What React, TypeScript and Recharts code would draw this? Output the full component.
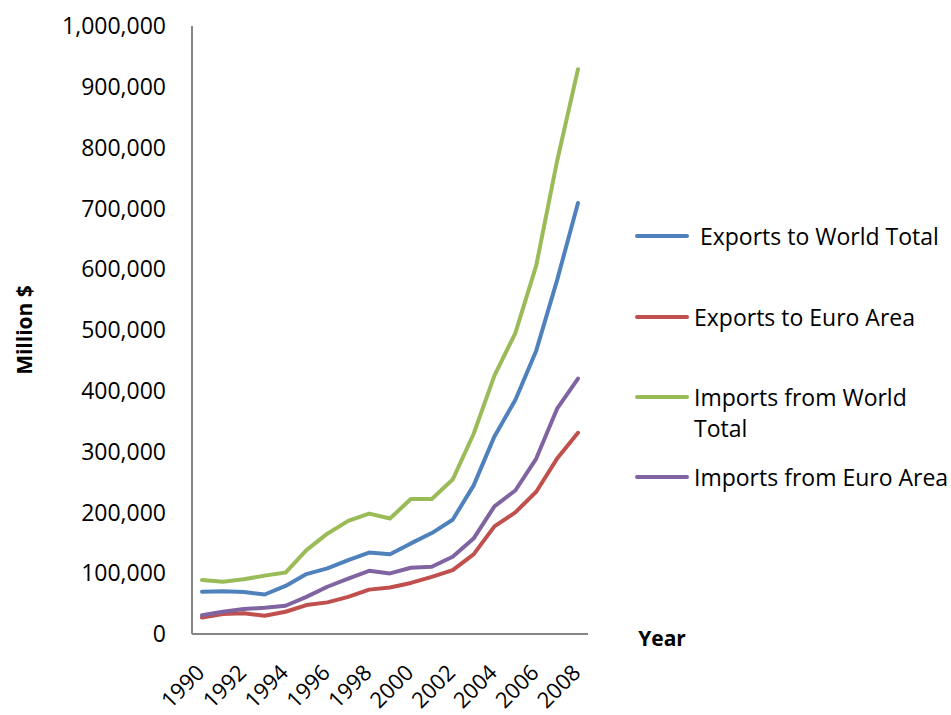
import React from 'react';
import { LineChart, Line, XAxis, YAxis } from 'recharts';

const years = ['1990','1991','1992','1993','1994','1995','1996','1997','1998','1999','2000','2001','2002','2003','2004','2005','2006','2007','2008'];
const exportsWorld = [69500, 70500, 69000, 65000, 79000, 98500, 108000, 121500, 134000, 131000, 149000, 166000, 188000, 244000, 325000, 385000, 466000, 582000, 709000];
const exportsEuro = [27000, 32800, 34000, 30000, 36600, 47600, 52000, 61000, 73000, 76600, 84000, 94000, 105000, 131000, 177000, 200000, 234000, 288500, 331000];
const importsWorld = [88700, 86000, 90000, 96000, 101000, 138000, 165000, 186000, 198000, 190000, 222000, 222000, 254000, 329000, 425000, 495000, 606000, 778000, 929000];
const importsEuro = [31000, 36600, 41000, 43000, 46500, 61000, 77700, 91000, 104000, 99600, 109000, 110500, 127000, 157000, 210000, 236000, 288500, 370600, 420000];
const yTicks = [0, 100000, 200000, 300000, 400000, 500000, 600000, 700000, 800000, 900000, 1000000];

const series = [
  { key: 'exportsWorld', name: 'Exports to World Total', color: '#4F81BD', lines: [' Exports to World Total'] },
  { key: 'exportsEuro', name: 'Exports to Euro Area', color: '#C0504D', lines: ['Exports to Euro Area'] },
  { key: 'importsWorld', name: 'Imports from World Total', color: '#9BBB59', lines: ['Imports from World', 'Total'] },
  { key: 'importsEuro', name: 'Imports from Euro Area', color: '#8064A2', lines: ['Imports from Euro Area'] },
];
const legendCenters = [236, 317, 397, 477];

const data = years.map((y, i) => ({
  year: y,
  exportsWorld: exportsWorld[i],
  exportsEuro: exportsEuro[i],
  importsWorld: importsWorld[i],
  importsEuro: importsEuro[i],
}));

const FONT = '"Open Sans", sans-serif';
const AXIS = '#868686';

const XTick = (props: any) => {
  const { x, y, payload } = props;
  const tx = x + 4;
  const ty = y + 40;
  return (
    <text x={tx} y={ty} transform={`rotate(-45 ${tx} ${ty})`} textAnchor="end" fontSize={22} fontFamily={FONT} fill="#000">
      {payload.value}
    </text>
  );
};

const fmt = (v: number) => v.toLocaleString('en-US');

export default function App() {
  return (
    <div style={{ position: 'absolute', left: 0, top: 0, width: 951, height: 715, background: '#fff', overflow: 'hidden' }}>
      <LineChart width={951} height={715} data={data} margin={{ top: 26, right: 363, bottom: 0, left: 0 }}>
        <XAxis
          dataKey="year"
          interval={1}
          height={81}
          padding={{ left: 10, right: 10 }}
          tickLine={false}
          tickSize={0}
          tickMargin={0}
          axisLine={{ stroke: AXIS, strokeWidth: 2 }}
          tick={<XTick />}
          label={{
            content: (p: any) => {
              const vb = p.viewBox || {};
              return (
                <text x={vb.x + vb.width + 74} y={vb.y + 12} textAnchor="middle" fontSize={21} fontWeight="bold" fontFamily={FONT} fill="#000">
                  Year
                </text>
              );
            },
          }}
        />
        <YAxis
          width={192}
          domain={[0, 1000000]}
          ticks={yTicks}
          tickFormatter={fmt}
          tickLine={false}
          tickSize={0}
          tickMargin={26}
          axisLine={{ stroke: AXIS, strokeWidth: 2 }}
          tick={{ fontSize: 23, fontFamily: FONT, fill: '#000' }}
          label={{
            content: (p: any) => {
              const vb = p.viewBox || {};
              const cx = vb.x + 24;
              const cy = vb.y + vb.height / 2;
              return (
                <text x={cx} y={cy} transform={`rotate(-90 ${cx} ${cy})`} textAnchor="middle" dominantBaseline="central" fontSize={21} fontWeight="bold" fontFamily={FONT} fill="#000">
                  Million $
                </text>
              );
            },
          }}
        />
        {series.map((s) => (
          <Line
            key={s.key}
            type="linear"
            dataKey={s.key}
            name={s.name}
            stroke={s.color}
            strokeWidth={4}
            strokeLinecap="round"
            strokeLinejoin="round"
            dot={false}
            activeDot={false}
            isAnimationActive={false}
          />
        ))}
      </LineChart>
      {series.map((s, i) => (
        <div key={s.key} style={{ position: 'absolute', left: 635, top: legendCenters[i] - 15.5, fontFamily: FONT, fontSize: 23, lineHeight: '31px', color: '#000' }}>
          <div style={{ position: 'absolute', left: 0, top: 13.5, width: 54, height: 4, borderRadius: 2, background: s.color }} />
          <div style={{ position: 'absolute', left: 59, top: 0, whiteSpace: 'pre' }}>
            {s.lines.join('\n')}
          </div>
        </div>
      ))}
    </div>
  );
}
